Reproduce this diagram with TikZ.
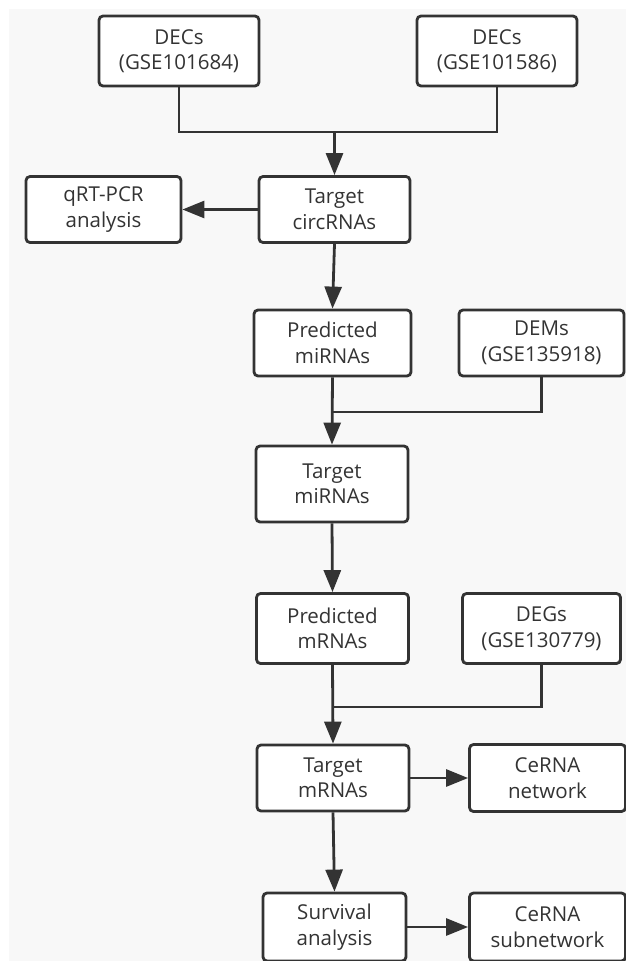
\documentclass[tikz,border=0pt]{standalone}
\usepackage{fontspec}
\setmainfont{Open Sans}
\usetikzlibrary{arrows.meta}
\definecolor{ink}{HTML}{333333}
\definecolor{paper}{HTML}{F8F8F8}
\tikzset{>={Triangle[length=22pt,width=17pt]}}
\tikzset{
  box/.style={draw=ink, fill=white, line width=2.8pt, rounded corners=4pt,
    align=center, text=ink, inner sep=0pt,
    minimum width=152pt, minimum height=66pt,
    font=\fontsize{20.5}{25.5}\selectfont},
  link/.style={draw=ink, line width=2.8pt}
}

\begin{document}
\begin{tikzpicture}[x=1pt,y=-1pt]
  \useasboundingbox (0,0) rectangle (626,961);
  \clip (0,0) rectangle (626,961);
  \fill[paper] (9,9) rectangle (626,961);

  % data sets and first step
  \node[box,minimum width=160pt,minimum height=70pt] (dec1) at (179,51) {DECs\\(GSE101684)};
  \node[box,minimum width=160pt,minimum height=70pt] (dec2) at (497,51) {DECs\\(GSE101586)};
  \node[box,minimum width=155pt] (qpcr) at (103.5,209.5) {qRT-PCR\\analysis};
  \node[box,minimum width=151pt] (circ) at (334.5,209.5) {Target\\circRNAs};

  \node[box,minimum width=157pt] (predmi) at (332.5,343) {Predicted\\miRNAs};
  \node[box,minimum width=165pt] (dems) at (541.5,343) {DEMs\\(GSE135918)};
  \node[box,minimum height=76pt] (targmi) at (332,484) {Target\\miRNAs};

  \node[box,minimum height=70pt] (predm) at (332.5,628.5) {Predicted\\mRNAs};
  \node[box,minimum width=158pt,minimum height=70pt] (degs) at (541.5,628.5) {DEGs\\(GSE130779)};
  \node[box] (targm) at (333,778) {Target\\mRNAs};
  \node[box,minimum width=156pt,minimum height=67pt] (cenet) at (547.5,778) {CeRNA\\network};

  \node[box,minimum width=143pt,minimum height=68pt] (surv) at (334.5,927) {Survival\\analysis};
  \node[box,minimum width=156pt,minimum height=68pt] (cesub) at (547.5,927) {CeRNA\\subnetwork};

  % junctions
  \coordinate (j1) at (334.5,132);
  \coordinate (j2) at (332.5,412);
  \coordinate (j3) at (332.5,707);

  \draw[link] (dec1.south) -- (dec1.south |- j1) -- (dec2.south |- j1) -- (dec2.south);
  \draw[link,->] (j1) -- (circ.north);
  \draw[link,->] (circ.west) -- (qpcr.east);
  \draw[link,->] (circ.south) -- (predmi.north);
  \draw[link] (dems.south) |- (j2);
  \draw[link,->] (predmi.south) -- (targmi.north);
  \draw[link,->] (targmi.south) -- (predm.north);
  \draw[link] (degs.south) |- (j3);
  \draw[link,->] (predm.south) -- (targm.north);
  \draw[link,->] (targm.east) -- (cenet.west);
  \draw[link,->] (targm.south) -- (surv.north);
  \draw[link,->] (surv.east) -- (cesub.west);
\end{tikzpicture}
\end{document}
